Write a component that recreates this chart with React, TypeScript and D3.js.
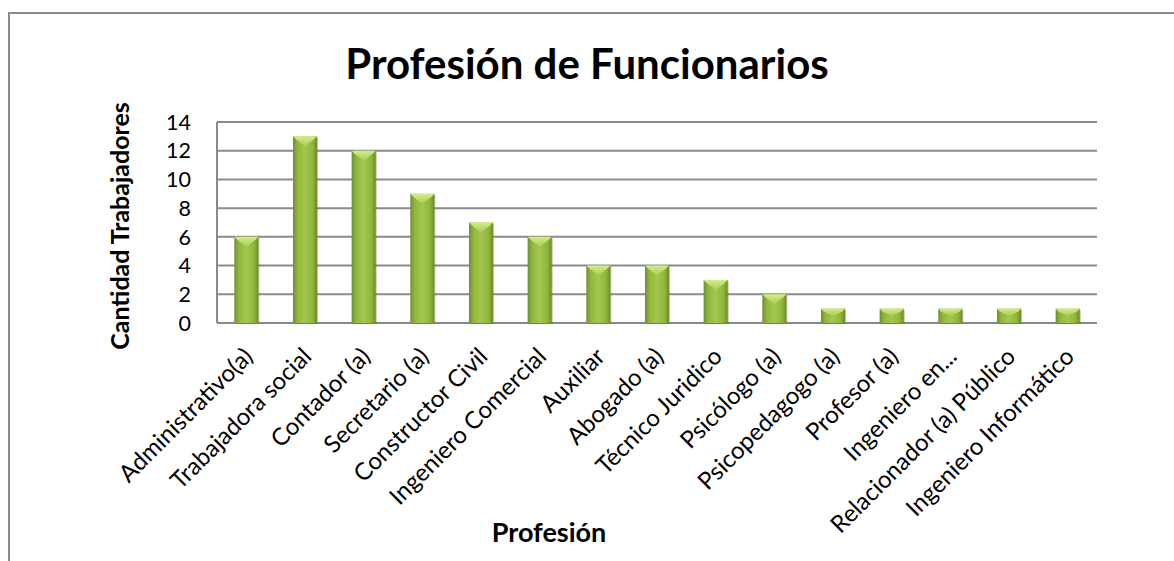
import React from "react";
import * as d3 from "d3";

const categories = [
  "Administrativo(a)",
  "Trabajadora social",
  "Contador (a)",
  "Secretario (a)",
  "Constructor Civil",
  "Ingeniero Comercial",
  "Auxiliar",
  "Abogado (a)",
  "Técnico Juridico",
  "Psicólogo (a)",
  "Psicopedagogo (a)",
  "Profesor (a)",
  "Ingeniero en...",
  "Relacionador (a) Público",
  "Ingeniero Informático",
];
const values = [6, 13, 12, 9, 7, 6, 4, 4, 3, 2, 1, 1, 1, 1, 1];
const yTicks = [0, 2, 4, 6, 8, 10, 12, 14];

const W = 1174;
const H = 561;
const FONT = "Lato, 'Open Sans', sans-serif";

export default function App() {
  const left = 217;
  const right = 1097;
  const top = 122;
  const bottom = 323;

  const x = d3.scaleBand<string>().domain(categories).range([left, right]).paddingInner(0.59).paddingOuter(0.295);
  const y = d3.scaleLinear().domain([0, 14]).range([bottom, top]);
  const bw = x.bandwidth();

  return (
    <svg width={W} height={H} style={{ position: "absolute", left: 0, top: 0, background: "#fff" }}>
      <defs>
        <linearGradient id="barGrad" x1="0" x2="1" y1="0" y2="0">
          <stop offset="0" stopColor="#6f8f2b" />
          <stop offset="0.18" stopColor="#8fb63c" />
          <stop offset="0.5" stopColor="#a3c74f" />
          <stop offset="0.82" stopColor="#8fb63c" />
          <stop offset="1" stopColor="#6a8a28" />
        </linearGradient>
        <linearGradient id="capGrad" x1="0" x2="0" y1="0" y2="1">
          <stop offset="0" stopColor="#d4ec8a" />
          <stop offset="1" stopColor="#a9cc52" />
        </linearGradient>
      </defs>
      <rect x={9} y={13} width={W} height={H} fill="#fff" stroke="#8c8c8c" strokeWidth={2} />

      <text x={587} y={79} textAnchor="middle" fontFamily={FONT} fontWeight="bold" fontSize={42} fill="#000">
        Profesión de Funcionarios
      </text>

      {yTicks.map((t) => (
        <g key={t}>
          <line x1={left} x2={right} y1={y(t)} y2={y(t)} stroke="#8a8a8a" strokeWidth={2} />
          <text x={191} y={y(t)} dy="0.36em" textAnchor="end" fontFamily={FONT} fontSize={21.5} fill="#000">
            {t}
          </text>
        </g>
      ))}
      <line x1={left} x2={left} y1={top} y2={bottom} stroke="#8a8a8a" strokeWidth={2} />

      {categories.map((c, i) => {
        const x0 = x(c)!;
        const y0 = y(values[i]);
        const cap = Math.min(10, (bottom - y0) / 2);
        return (
          <g key={c}>
            <rect x={x0 + 1} y={y0 + 1} width={bw} height={bottom - y0} fill="#5a5a5a" opacity={0.35} />
            <rect x={x0} y={y0} width={bw} height={bottom - y0} fill="url(#barGrad)" />
            <polygon
              points={`${x0},${y0} ${x0 + bw},${y0} ${x0 + bw - 3},${y0 + 3} ${x0 + bw / 2},${y0 + cap} ${x0 + 3},${y0 + 3}`}
              fill="url(#capGrad)"
            />
          </g>
        );
      })}

      {categories.map((c) => {
        const cx = x(c)! + bw / 2 + 8;
        const cy = 358;
        return (
          <text
            key={c}
            transform={`translate(${cx},${cy}) rotate(-45)`}
            textAnchor="end"
            fontFamily={FONT}
            fontSize={24}
            fill="#000"
          >
            {c}
          </text>
        );
      })}

      <text
        transform="translate(129,226) rotate(-90)"
        textAnchor="middle"
        fontFamily={FONT}
        fontWeight="bold"
        fontSize={25}
        fill="#000"
      >
        Cantidad Trabajadores
      </text>
      <text x={549} y={542} textAnchor="middle" fontFamily={FONT} fontWeight="bold" fontSize={27} fill="#000">
        Profesión
      </text>
    </svg>
  );
}
